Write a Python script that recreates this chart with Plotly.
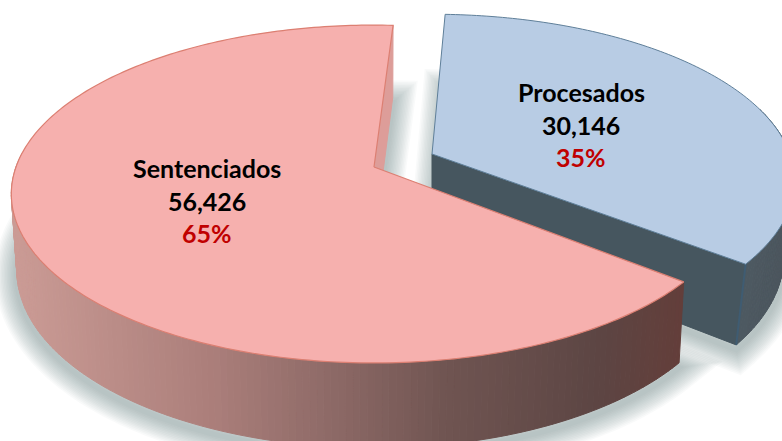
import numpy as np
import plotly.graph_objects as go

# ---- data ----
categories = ["Sentenciados", "Procesados"]
values = [56426, 30146]
percent_labels = ["65%", "35%"]

# ---- styles / geometry of the 3D look ----
top_colors = ["#f6b0ae", "#b8cce4"]
edge_colors = ["#dc7f72", "#5f7f99"]
cut_colors = ["#dd9d99", "#46565f"]
apexes = [(374.0, 167.0), (432.0, 154.0)]
height_scale = [1.0, 0.985]
low_scale = [0.985, 0.97]
label_pos = [(207, 168), (581, 92)]
W, H = 782, 441
A, B, K = 358.0, 164.6, 0.16
START_DEG = 38.9
BLUE_TURN_DEG = -1.1
red_stops = [(10, (204, 156, 150)), (220, (170, 126, 122)), (330, (143, 107, 104)),
             (450, (112, 85, 82)), (600, (93, 70, 68)), (690, (100, 62, 58))]
blue_stops = [(640, (62, 82, 96)), (733, (66, 88, 106)), (745, (78, 90, 98)), (790, (76, 86, 94))]


def project(theta, idx, lower=False):
    apex = apexes[idx]
    x, y = np.cos(theta), np.sin(theta)
    w = 1 - K * y
    dx, dy = A * x / w, B * height_scale[idx] * y / w
    if lower:
        depth = 74 + np.where(y > 0, 11 * y, 2 * y)
        return apex[0] + low_scale[idx] * dx, apex[1] + dy + depth
    return apex[0] + dx, apex[1] + dy


def apex_low(idx):
    return apexes[idx][0], apexes[idx][1] + 74


def ramp(x, stops):
    xs = [s[0] for s in stops]
    return "rgb(%d,%d,%d)" % tuple(np.interp(x, xs, [s[1][i] for s in stops]) for i in range(3))


total = sum(values)
spans = [2 * np.pi * v / total for v in values]
t0 = np.radians(START_DEG)
t1 = t0 + np.radians(BLUE_TURN_DEG)
arcs = [np.linspace(t0, t0 + spans[0], 240), np.linspace(t1 - spans[1], t1, 130)]

fig = go.Figure()


def poly(xs, ys, fill=None, line=None, width=0, mode="lines"):
    fig.add_trace(go.Scatter(
        x=list(xs), y=list(ys), mode=mode, hoverinfo="skip", showlegend=False,
        fill="toself" if fill else None, fillcolor=fill,
        line=dict(color=line or "rgba(0,0,0,0)", width=width, simplify=False),
    ))


# soft shadows: wide translucent strokes around each lower face
for i, arc in enumerate(arcs):
    lx, ly = project(arc, i, lower=True)
    ax, ay = apex_low(i)
    xs = np.r_[ax, lx, ax]
    ys = np.r_[ay, ly, ay] + 5
    for w in range(44, 2, -3):
        poly(xs, ys, line="rgba(110,128,128,0.04)", width=w)

# Procesados (behind)
i = 1
arc, apex = arcs[i], apexes[i]
tx, ty = project(arc, i)
lx, ly = project(arc, i, lower=True)
ax, ay = apex_low(i)
poly([apex[0], tx[-1], lx[-1], ax, apex[0]], [apex[1], ty[-1], ly[-1], ay, apex[1]], fill=cut_colors[1], line=cut_colors[1], width=1)
front = np.where(np.sin(arc) > -0.3)[0]
for j in front[:-1]:
    c = ramp(tx[j], blue_stops)
    poly([tx[j], tx[j + 1], lx[j + 1], lx[j], tx[j]], [ty[j], ty[j + 1], ly[j + 1], ly[j], ty[j]], fill=c, line=c, width=1)
poly([tx[-1], lx[-1]], [ty[-1], ly[-1]], line="#3f5c72", width=2)
poly(np.r_[apex[0], tx, apex[0]], np.r_[apex[1], ty, apex[1]], fill=top_colors[1], line=edge_colors[1], width=1)

# Sentenciados (front)
i = 0
arc, apex = arcs[i], apexes[i]
tx, ty = project(arc, i)
lx, ly = project(arc, i, lower=True)
ax, ay = apex_low(i)
poly([apex[0], tx[-1], lx[-1], ax, apex[0]], [apex[1], ty[-1], ly[-1], ay, apex[1]], fill=cut_colors[0], line=cut_colors[0], width=1)
front = np.where(np.sin(arc) > -0.1)[0]
for j in front[:-1]:
    c = ramp(tx[j], red_stops)
    poly([tx[j], tx[j + 1], lx[j + 1], lx[j], tx[j]], [ty[j], ty[j + 1], ly[j + 1], ly[j], ty[j]], fill=c, line=c, width=1)
poly(np.r_[apex[0], tx, apex[0]], np.r_[apex[1], ty, apex[1]], fill=top_colors[0], line=edge_colors[0], width=1.2)

# labels
for name, val, pct, (x, y) in zip(categories, values, percent_labels, label_pos):
    for k, (txt, col) in enumerate([(name, "#000000"), (f"{val:,}", "#000000"), (pct, "#c00000")]):
        fig.add_annotation(x=x, y=y + 32.5 * k, text=f"<b>{txt}</b>", showarrow=False,
                           font=dict(family="Lato", size=25, color=col))

fig.update_layout(
    width=W, height=H, margin=dict(l=0, r=0, t=0, b=0),
    paper_bgcolor="white", plot_bgcolor="white", showlegend=False,
    xaxis=dict(range=[0, W], visible=False, fixedrange=True),
    yaxis=dict(range=[H, 0], visible=False, fixedrange=True),
)
fig.write_html("out.html", post_script="document.body.style.margin='0';", config={"displayModeBar": False})
